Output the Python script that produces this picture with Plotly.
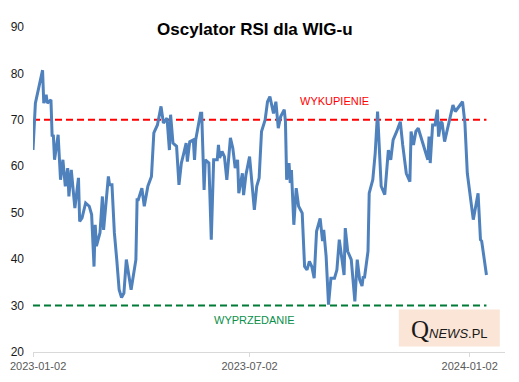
import pandas as pd
import plotly.graph_objects as go

# Data: days since 2023-01-02 and RSI values
start_date = "2023-01-02"
day_offsets = [0, 2, 8, 9, 11, 12, 15, 16, 17, 18, 21, 23, 25, 27, 29, 30, 32, 35, 38, 39,
               41, 44, 47, 49, 51, 52, 53, 56, 58, 59, 63, 64, 66, 68, 70, 72, 74, 76, 78, 82,
               86, 87, 88, 91, 93, 96, 99, 101, 104, 107, 109, 112, 114, 115, 117, 120, 122, 124, 126, 128,
               129, 131, 134, 135, 136, 140, 141, 143, 144, 147, 149, 151, 154, 155, 156, 158, 160, 162, 165, 167,
               169, 171, 172, 175, 176, 178, 181, 183, 185, 187, 189, 191, 194, 196, 198, 201, 203, 205, 207, 210,
               211, 212, 214, 215, 216, 218, 220, 222, 225, 227, 229, 231, 233, 235, 237, 240, 242, 243, 245, 247,
               249, 252, 254, 256, 257, 260, 261, 263, 266, 267, 269, 271, 273, 275, 276, 277, 280, 281, 283, 284,
               286, 288, 289, 291, 294, 297, 299, 301, 304, 307, 309, 312, 315, 316, 318, 320, 322, 325, 328, 330,
               331, 332, 334, 336, 338, 339, 341, 342, 344, 347, 351, 353, 355, 359, 361, 363, 368, 372, 374, 375,
               379]
rsi_values = [63.5, 73.6, 80.7, 73.6, 75.4, 73.6, 74.3, 66.4, 66.8, 61.4, 66.8, 57.1, 61.4, 55.7, 59.6, 53.5, 59.2, 51.0, 57.5, 48.1,
              48.9, 52.1, 51.4, 49.6, 38.4, 47.4, 42.8, 45.7, 53.5, 46.3, 57.8, 56.0, 56.0, 45.7, 39.9, 33.4, 31.7, 32.7, 39.9, 33.4,
              39.9, 52.8, 52.8, 55.3, 51.4, 55.7, 57.8, 67.2, 68.9, 72.9, 69.3, 70.4, 63.5, 71.1, 65.0, 64.3, 56.0, 60.7, 62.8, 65.0,
              61.0, 65.3, 65.7, 61.4, 65.7, 71.4, 71.4, 54.9, 61.4, 60.7, 44.2, 61.4, 61.4, 64.6, 61.8, 63.2, 62.1, 57.1, 66.1, 63.9,
              59.6, 61.4, 54.2, 58.5, 53.8, 58.2, 62.1, 57.1, 50.6, 55.7, 57.5, 67.5, 70.0, 73.9, 75.0, 71.4, 73.9, 68.2, 70.7, 72.2,
              69.6, 57.1, 60.7, 56.4, 59.2, 47.4, 55.3, 51.4, 49.9, 38.4, 37.7, 39.5, 38.4, 35.9, 46.0, 48.8, 43.9, 46.3, 40.6, 30.2,
              35.9, 35.9, 37.7, 44.2, 42.0, 36.6, 46.7, 41.7, 39.9, 37.4, 30.9, 39.9, 35.6, 34.2, 36.3, 35.9, 41.7, 54.2, 56.4, 57.1,
              62.8, 71.8, 66.4, 55.7, 53.9, 63.5, 61.4, 65.7, 67.5, 69.6, 64.6, 58.5, 56.7, 67.5, 64.6, 67.5, 68.2, 65.7, 63.5, 61.4,
              66.4, 60.7, 68.9, 68.9, 72.2, 66.4, 69.6, 69.3, 65.3, 68.6, 73.2, 71.8, 72.5, 73.9, 69.3, 58.5, 48.5, 54.2, 44.2, 43.9,
              36.6]
overbought_level = 70
oversold_level = 30
tick_dates = ["2023-01-02", "2023-07-02", "2024-01-02"]
y_ticks = [20, 30, 40, 50, 60, 70, 80, 90]

dates = pd.Timestamp(start_date) + pd.to_timedelta(day_offsets, unit="D")
first_date, last_date = dates[0], dates[-1]

fig = go.Figure()
fig.add_trace(go.Scatter(x=[first_date, last_date], y=[overbought_level] * 2, mode="lines",
                         line=dict(color="#FF0000", width=2, dash="7px,4px"), hoverinfo="skip"))
fig.add_trace(go.Scatter(x=[first_date, last_date], y=[oversold_level] * 2, mode="lines",
                         line=dict(color="#007A37", width=2, dash="7px,4px"), hoverinfo="skip"))
fig.add_trace(go.Scatter(x=dates, y=rsi_values, mode="lines",
                         line=dict(color="#4F81BD", width=3)))

tick_font = dict(family="Liberation Sans", size=11, color="#595959")

# page body has an 8px default margin, so the figure is sized/offset to compensate
fig.update_layout(
    width=511, height=374,
    margin=dict(l=25, r=14, t=19, b=30),
    paper_bgcolor="white", plot_bgcolor="white",
    showlegend=False,
    title=dict(text="<b>Oscylator RSI dla WIG-u</b>", xref="container", yref="container",
               x=0.483, y=0.945, xanchor="center", yanchor="middle",
               font=dict(family="Liberation Sans", size=17, color="#000000")),
    xaxis=dict(type="date", range=["2023-01-02", "2024-01-31 12:00"], automargin=False,
               tickvals=tick_dates, ticktext=[""] + tick_dates[1:],
               showgrid=False, zeroline=False, showline=True, linecolor="#D9D9D9", linewidth=1,
               ticks="outside", ticklen=4, tickcolor="#D9D9D9",
               tickfont=tick_font),
    yaxis=dict(range=[20, 90], tickvals=y_ticks, showgrid=False, zeroline=False, showline=False,
               automargin=False, ticklabelstandoff=8,
               tickfont=dict(family="Liberation Sans", size=12, color="#1A1A1A")),
    shapes=[dict(type="rect", xref="paper", yref="paper", x0=0.775, x1=0.989, y0=0.017, y1=0.1306,
                 fillcolor="#FBE5D6", line=dict(width=0), layer="below")],
    annotations=[
        # first x tick label, kept inside the page edge
        dict(text=tick_dates[0], xref="paper", yref="paper", x=-0.0508, y=0, showarrow=False,
             xanchor="left", yanchor="middle", yshift=-14, borderpad=0, font=tick_font),
        dict(text="WYKUPIENIE", xref="paper", yref="y", x=0.638, y=74.0, showarrow=False,
             xanchor="center", yanchor="middle",
             font=dict(family="Liberation Sans", size=11, color="#FF0000")),
        dict(text="WYPRZEDANIE", xref="paper", yref="y", x=0.470, y=26.8, showarrow=False,
             xanchor="center", yanchor="middle",
             font=dict(family="Liberation Sans", size=11, color="#0A8F4A")),
        dict(text="<span style='font-family:Liberation Serif;font-size:25px'>Q</span>"
                  "<i>NEWS</i>.PL",
             xref="paper", yref="paper", x=0.882, y=0.07, showarrow=False,
             xanchor="center", yanchor="middle",
             font=dict(family="Liberation Sans", size=13, color="#1A1A1A")),
    ],
)

fig.write_html("out.html")
